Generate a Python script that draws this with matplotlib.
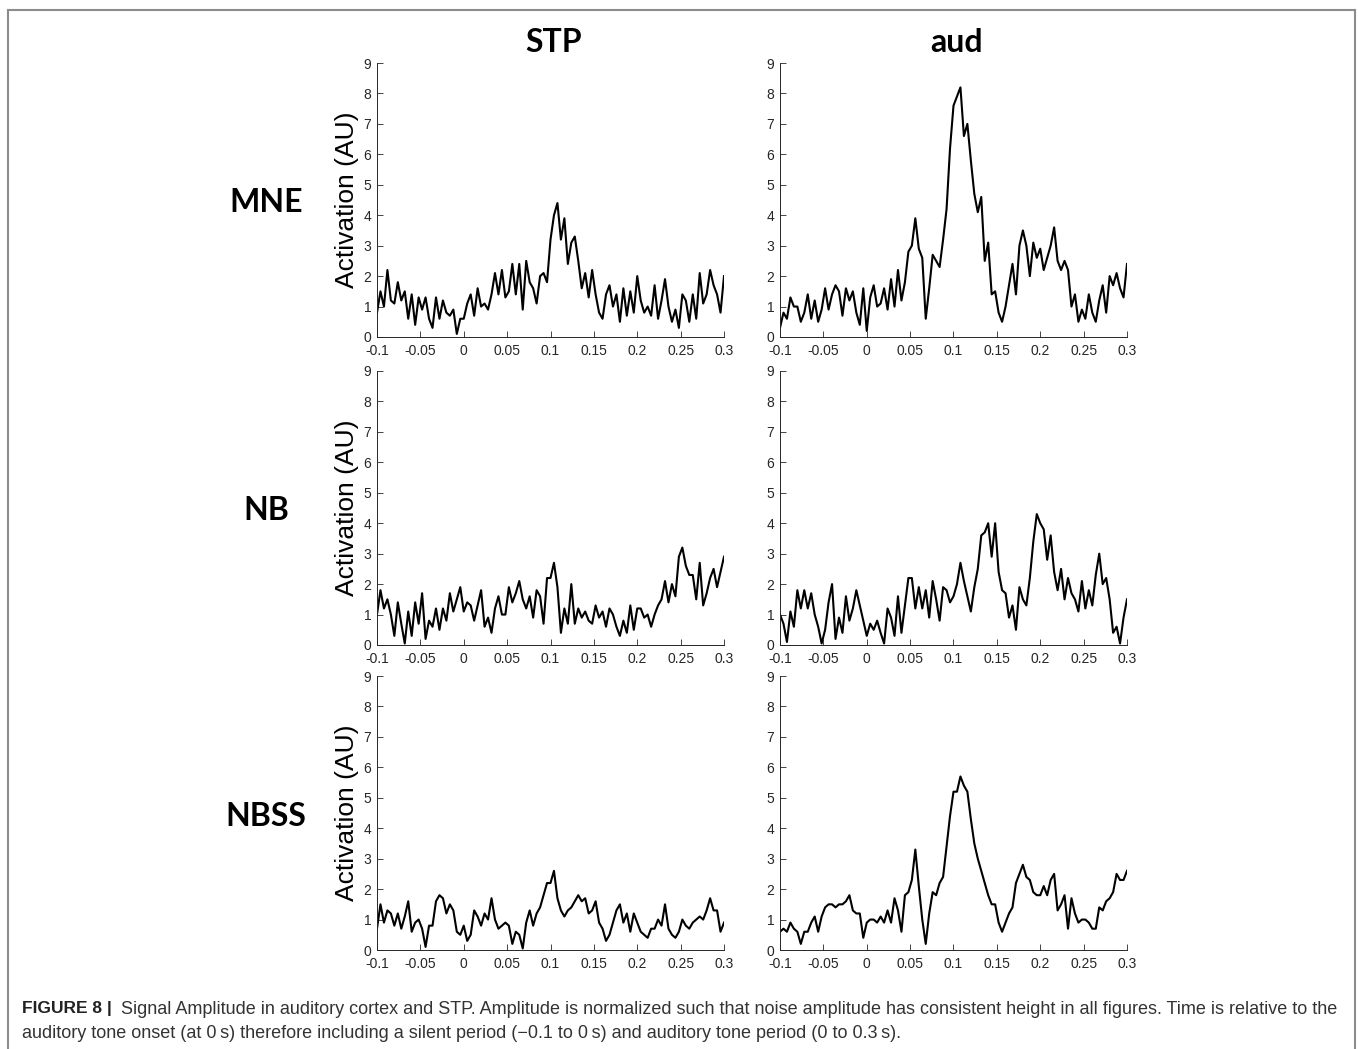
import numpy as np
import matplotlib
matplotlib.use("Agg")
import matplotlib.pyplot as plt
from matplotlib.lines import Line2D

plt.rcParams['font.family'] = ['Liberation Sans', 'DejaVu Sans']

# time axis (s), one sample every 4 ms
t = np.linspace(-0.1, 0.3, 101)

stp_mne = [0.8, 1.5, 1.0, 2.2, 1.2, 1.1, 1.8, 1.2, 1.5, 0.6, 1.4, 0.4, 1.3, 0.9, 1.3, 0.6, 0.3, 1.3, 0.6, 1.2,
           0.8, 0.7, 0.9, 0.1, 0.6, 0.6, 1.1, 1.4, 0.7, 1.6, 1.0, 1.1, 0.9, 1.4, 2.1, 1.4, 2.2, 1.3, 1.5, 2.4,
           1.4, 2.4, 0.9, 2.5, 1.8, 1.6, 1.1, 2.0, 2.1, 1.8, 3.2, 4.0, 4.4, 3.2, 3.9, 2.4, 3.1, 3.3, 2.5, 1.6,
           2.1, 1.3, 2.2, 1.4, 0.8, 0.6, 1.4, 1.7, 1.0, 1.4, 0.5, 1.6, 0.7, 1.5, 0.8, 2.0, 1.2, 0.8, 1.0, 0.7,
           1.7, 0.6, 1.2, 1.9, 1.0, 0.5, 0.9, 0.3, 1.4, 1.2, 0.5, 1.4, 0.6, 2.1, 1.1, 1.4, 2.2, 1.7, 1.4, 0.8,
           2.0]

aud_mne = [0.3, 0.8, 0.6, 1.3, 1.0, 1.0, 0.5, 0.8, 1.4, 0.6, 1.2, 0.5, 0.9, 1.6, 0.9, 1.4, 1.7, 1.5, 0.7, 1.6,
           1.2, 1.5, 0.8, 0.4, 1.6, 0.2, 1.3, 1.7, 1.0, 1.1, 1.6, 0.9, 1.9, 1.0, 2.2, 1.2, 1.8, 2.8, 3.0, 3.9,
           2.9, 2.6, 0.6, 1.6, 2.7, 2.5, 2.3, 3.2, 4.2, 6.2, 7.6, 7.9, 8.2, 6.6, 7.0, 5.8, 4.7, 4.1, 4.6, 2.5,
           3.1, 1.4, 1.5, 0.8, 0.5, 1.0, 1.7, 2.4, 1.4, 3.0, 3.5, 3.0, 2.0, 3.1, 2.6, 2.9, 2.2, 2.6, 3.0, 3.6,
           2.5, 2.2, 2.5, 2.2, 1.0, 1.4, 0.5, 0.9, 0.6, 1.4, 0.8, 0.5, 1.2, 1.7, 0.8, 2.0, 1.7, 2.1, 1.6, 1.3,
           2.4]

stp_nb = [1.0, 1.8, 1.2, 1.5, 1.0, 0.3, 1.4, 0.7, 0.05, 1.1, 0.3, 1.4, 0.7, 1.7, 0.2, 0.8, 0.6, 1.2, 0.5, 1.2,
          0.8, 1.7, 1.1, 1.5, 1.9, 1.1, 1.4, 1.3, 0.8, 1.3, 1.8, 0.6, 0.9, 0.4, 1.2, 1.6, 1.0, 1.0, 1.9, 1.4,
          1.7, 2.1, 1.5, 1.2, 1.6, 0.9, 1.8, 1.6, 0.7, 2.2, 2.2, 2.7, 1.9, 0.4, 1.2, 0.7, 2.0, 0.7, 1.2, 0.9,
          1.1, 0.8, 0.7, 1.3, 0.9, 1.1, 0.6, 1.2, 1.0, 0.6, 0.3, 0.8, 0.4, 1.3, 0.5, 1.2, 1.2, 0.9, 1.0, 0.6,
          1.0, 1.3, 1.5, 2.1, 1.4, 2.0, 1.6, 2.9, 3.2, 2.6, 2.3, 2.3, 1.5, 2.7, 1.3, 1.7, 2.2, 2.5, 1.9, 2.4,
          2.9]

aud_nb = [1.0, 0.7, 0.1, 1.1, 0.6, 1.8, 1.2, 1.8, 1.2, 1.7, 1.0, 0.6, 0.05, 0.5, 1.4, 2.0, 0.2, 0.9, 0.4, 1.6,
          0.8, 1.2, 1.8, 1.3, 0.8, 0.3, 0.7, 0.5, 0.8, 0.4, 0.05, 1.2, 0.9, 0.3, 1.6, 0.4, 1.3, 2.2, 2.2, 1.2,
          1.9, 1.2, 1.8, 0.9, 2.1, 1.5, 0.8, 1.9, 1.8, 1.4, 1.6, 2.0, 2.7, 2.1, 1.6, 1.1, 1.9, 2.5, 3.6, 3.7,
          4.0, 2.9, 4.0, 2.4, 1.8, 1.7, 0.9, 1.3, 0.5, 1.9, 1.5, 1.3, 2.2, 3.4, 4.3, 4.0, 3.8, 2.8, 3.6, 2.4,
          1.8, 2.5, 1.5, 2.2, 1.7, 1.5, 1.1, 2.1, 1.2, 1.8, 1.3, 2.3, 3.0, 2.0, 2.2, 1.5, 0.4, 0.6, 0.05, 0.9,
          1.5]

stp_nbss = [0.7, 1.5, 0.9, 1.3, 1.2, 0.8, 1.2, 0.7, 1.1, 1.6, 0.6, 0.9, 1.0, 0.7, 0.1, 0.8, 0.8, 1.6, 1.8, 1.7,
            1.2, 1.5, 1.3, 0.6, 0.5, 0.8, 0.3, 0.5, 1.3, 1.1, 0.8, 1.2, 1.0, 1.7, 1.0, 0.7, 0.8, 0.9, 0.8, 0.2,
            0.6, 0.5, 0.05, 0.9, 1.3, 0.8, 1.2, 1.4, 1.8, 2.2, 2.2, 2.6, 1.7, 1.3, 1.1, 1.3, 1.4, 1.6, 1.8, 1.6,
            1.7, 1.2, 1.3, 1.6, 0.9, 0.7, 0.3, 0.5, 0.9, 1.3, 1.5, 0.9, 1.2, 0.6, 1.2, 0.9, 0.6, 0.5, 0.4, 0.7,
            0.7, 1.0, 0.8, 1.5, 0.7, 0.5, 0.4, 0.6, 1.0, 0.8, 0.7, 0.9, 1.0, 1.1, 1.0, 1.3, 1.7, 1.3, 1.3, 0.6,
            0.9]

aud_nbss = [0.6, 0.7, 0.6, 0.9, 0.7, 0.6, 0.2, 0.6, 0.6, 0.9, 1.1, 0.6, 1.1, 1.4, 1.5, 1.5, 1.4, 1.5, 1.5, 1.6,
            1.8, 1.3, 1.2, 1.2, 0.4, 0.9, 1.0, 1.0, 0.9, 1.1, 0.9, 1.3, 0.9, 1.7, 1.3, 0.6, 1.8, 1.9, 2.3, 3.3,
            2.1, 1.0, 0.2, 1.2, 1.9, 1.8, 2.2, 2.4, 3.4, 4.4, 5.2, 5.2, 5.7, 5.4, 5.2, 4.3, 3.5, 3.0, 2.6, 2.2,
            1.8, 1.5, 1.5, 0.9, 0.6, 0.9, 1.2, 1.4, 2.2, 2.5, 2.8, 2.4, 2.3, 1.9, 1.8, 1.8, 2.1, 1.8, 2.3, 2.5,
            1.3, 1.5, 1.8, 0.7, 1.7, 1.2, 0.9, 1.0, 1.0, 0.9, 0.7, 0.7, 1.4, 1.3, 1.6, 1.7, 1.9, 2.5, 2.3, 2.3,
            2.6]

columns = ['STP', 'aud']
rows = ['MNE', 'NB', 'NBSS']
series = [[stp_mne, aud_mne], [stp_nb, aud_nb], [stp_nbss, aud_nbss]]

xticks = [-0.1, -0.05, 0, 0.05, 0.1, 0.15, 0.2, 0.25, 0.3]
xticklabels = ['-0.1', '-0.05', '0', '0.05', '0.1', '0.15', '0.2', '0.25', '0.3']
yticks = list(range(10))

W, H = 1358, 1049
fig = plt.figure(figsize=(W / 100, H / 100), dpi=100)

axcol = '#262626'
col_left = [377, 780]       # pixel x of left edge of each column
row_top = [63, 371, 676]    # pixel y of the top (value 9) of each row
ax_w, ax_h = 347, 274

for r in range(3):
    for c in range(2):
        ax = fig.add_axes([col_left[c] / W, 1 - (row_top[r] + ax_h) / H, ax_w / W, ax_h / H])
        ax.plot(t, series[r][c], color='black', lw=1.5)
        ax.set_xlim(-0.1, 0.3)
        ax.set_ylim(0, 9)
        ax.set_xticks(xticks)
        ax.set_xticklabels(xticklabels)
        ax.set_yticks(yticks)
        for s in ['top', 'right']:
            ax.spines[s].set_visible(False)
        for s in ['left', 'bottom']:
            ax.spines[s].set_color(axcol)
            ax.spines[s].set_linewidth(0.7)
        ax.tick_params(direction='in', length=4, width=0.6, color=axcol,
                       labelcolor=axcol, labelsize=10)
        ax.tick_params(axis='x', pad=5)
        ax.tick_params(axis='y', pad=4)
        ax.set_facecolor('none')
        if c == 0:
            ax.set_ylabel('Activation (AU)', fontsize=19, color='black', labelpad=3)

# row and column headings
for c, name in enumerate(columns):
    fig.text((col_left[c] + ax_w / 2 + 3) / W, 1 - 42 / H, name, ha='center', va='center',
             fontsize=23, fontweight='bold', family=['Lato', 'DejaVu Sans'])
for r, name in enumerate(rows):
    fig.text(266 / W, 1 - (row_top[r] + 140) / H, name, ha='center', va='center',
             fontsize=23, fontweight='bold', family=['Lato', 'DejaVu Sans'])

# frame around the figure panel
frame = '#8c8c8c'
fig.add_artist(Line2D([8 / W, 8 / W], [0, 1 - 10 / H], color=frame, lw=1.5))
fig.add_artist(Line2D([8 / W, 1355 / W], [1 - 10 / H, 1 - 10 / H], color=frame, lw=1.5))
fig.add_artist(Line2D([1355 / W, 1355 / W], [0, 1 - 10 / H], color=frame, lw=1.5))

# caption
cap1 = ('Signal Amplitude in auditory cortex and STP. Amplitude is normalized such that noise amplitude '
        'has consistent height in all figures. Time is relative to the')
cap2 = ('auditory tone onset (at 0\u2009s) therefore including a silent period (\u22120.1 to 0\u2009s) '
        'and auditory tone period (0 to 0.3\u2009s).')
fig.text(22 / W, 1 - 1009 / H, 'FIGURE 8 |', fontsize=12.5, fontweight='bold', color='#222222', va='center')
c1 = fig.text(121 / W, 1 - 1009 / H, cap1, fontsize=12.5, color='#333333', va='center')
c2 = fig.text(22 / W, 1 - 1033 / H, cap2, fontsize=12.5, color='#333333', va='center')

# shrink the caption font so the first line ends where it does in the figure
fig.canvas.draw()
rend = fig.canvas.get_renderer()
w = c1.get_window_extent(rend).width
size = 12.5 * (1336 - 121) / w
c1.set_fontsize(size)
c2.set_fontsize(size)

fig.savefig('out.png', dpi=100, facecolor='white')
